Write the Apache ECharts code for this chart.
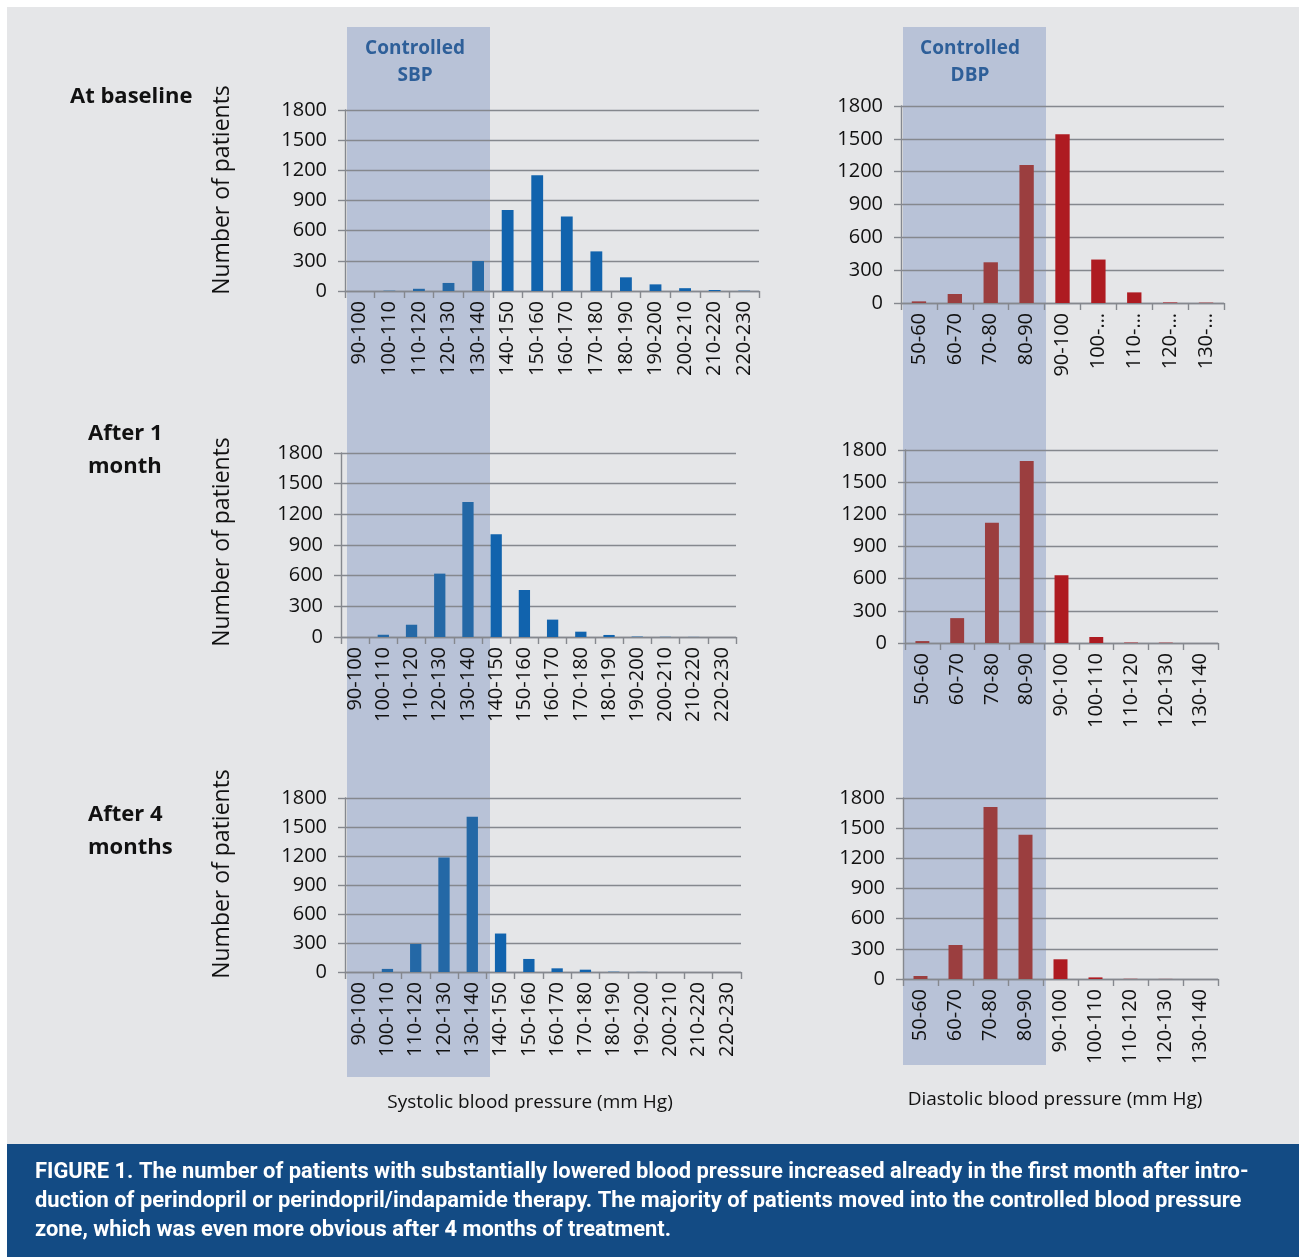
<!DOCTYPE html>
<html>
<head>
<meta charset="utf-8">
<script src="https://cdn.jsdelivr.net/npm/echarts@6/dist/echarts.min.js"></script>
<style>
html,body{margin:0;padding:0;background:#fff;}
#c{width:1300px;height:1257px;}
</style>
</head>
<body>
<div id="c"></div>
<script>
// ---------- DATA ----------
const sbpCategories = ['90-100','100-110','110-120','120-130','130-140','140-150','150-160','160-170','170-180','180-190','190-200','200-210','210-220','220-230'];
const dbpCategoriesBaseline = ['50-60','60-70','70-80','80-90','90-100','100-…','110-…','120-…','130-…'];
const dbpCategories = ['50-60','60-70','70-80','80-90','90-100','100-110','110-120','120-130','130-140'];

const sbpBaseline = [0, 3, 22, 80, 298, 806, 1152, 740, 394, 136, 66, 28, 10, 3];
const sbpMonth1   = [0, 22, 120, 620, 1320, 1005, 460, 170, 52, 20, 4, 2, 1, 0];
const sbpMonth4   = [0, 32, 290, 1185, 1605, 398, 135, 38, 24, 3, 1, 0, 0, 0];

const dbpBaseline = [15, 82, 372, 1262, 1543, 397, 97, 5, 3];
const dbpMonth1   = [18, 232, 1122, 1698, 633, 56, 4, 3, 0];
const dbpMonth4   = [30, 338, 1710, 1435, 196, 16, 2, 1, 0];

const rowTitles = [['At baseline'], ['After 1', 'month'], ['After 4', 'months']];
const yAxisName = 'Number of patients';
const sbpAxisTitle = 'Systolic blood pressure (mm Hg)';
const dbpAxisTitle = 'Diastolic blood pressure (mm Hg)';
const zoneLabelsSBP = ['Controlled', 'SBP'];
const zoneLabelsDBP = ['Controlled', 'DBP'];
const captionLines = [
  'FIGURE 1. The number of patients with substantially lowered blood pressure increased already in the first month after intro-',
  'duction of perindopril or perindopril/indapamide therapy. The majority of patients moved into the controlled blood pressure',
  'zone, which was even more obvious after 4 months of treatment.'
];
const yMin = 0, yMax = 1800, yStep = 300;

// ---------- STYLE / LAYOUT ----------
const FONT = '"Open Sans", "Noto Sans", sans-serif';
const GRID_COL = '#85888e';
const AXIS_COL = '#85888e';
const BLUE_OUT = '#1163ad', BLUE_IN = '#2468a6';
const RED_OUT = '#ae1b21', RED_IN = '#9b3e3f';

const panels = [
  {cats: sbpCategories, vals: sbpBaseline, nShade: 5, cin: BLUE_IN, cout: BLUE_OUT, grid: {left: 345, top: 110, width: 414, height: 181}},
  {cats: dbpCategoriesBaseline, vals: dbpBaseline, nShade: 4, cin: RED_IN, cout: RED_OUT, grid: {left: 901, top: 106, width: 323, height: 197}},
  {cats: sbpCategories, vals: sbpMonth1, nShade: 5, cin: BLUE_IN, cout: BLUE_OUT, grid: {left: 341, top: 453, width: 395, height: 184}},
  {cats: dbpCategories, vals: dbpMonth1, nShade: 4, cin: RED_IN, cout: RED_OUT, grid: {left: 905, top: 450, width: 313, height: 193}},
  {cats: sbpCategories, vals: sbpMonth4, nShade: 5, cin: BLUE_IN, cout: BLUE_OUT, grid: {left: 345, top: 798, width: 396, height: 174}},
  {cats: dbpCategories, vals: dbpMonth4, nShade: 4, cin: RED_IN, cout: RED_OUT, grid: {left: 903, top: 798, width: 315, height: 181}}
];

const grids = [], xAxes = [], yAxes = [], series = [];
panels.forEach((p, i) => {
  grids.push(Object.assign({containLabel: false}, p.grid));
  xAxes.push({
    type: 'category', gridIndex: i, data: p.cats,
    axisLine: {show: true, lineStyle: {color: AXIS_COL, width: 1.4}},
    axisTick: {show: true, interval: 0, length: 7, lineStyle: {color: AXIS_COL, width: 1.4}},
    axisLabel: {interval: 0, rotate: 90, fontSize: 20, color: '#111', fontFamily: FONT, margin: 10},
    splitLine: {show: false}
  });
  yAxes.push({
    type: 'value', gridIndex: i, min: yMin, max: yMax, interval: yStep,
    axisLine: {show: true, lineStyle: {color: AXIS_COL, width: 1.4}},
    axisTick: {show: true, length: 7, lineStyle: {color: AXIS_COL, width: 1.4}},
    axisLabel: {fontSize: 20, color: '#111', fontFamily: FONT, margin: 18, formatter: (v) => String(v)},
    splitLine: {show: true, lineStyle: {color: GRID_COL, width: 1.4}}
  });
  series.push({
    type: 'bar', xAxisIndex: i, yAxisIndex: i, data: p.vals, barWidth: '40%',
    itemStyle: {color: (params) => params.dataIndex < p.nShade ? p.cin : p.cout},
    silent: true
  });
});

const graphic = [];
// backgrounds
graphic.push({type: 'rect', z: -30, shape: {x: 7, y: 7, width: 1292, height: 1137}, style: {fill: '#e5e6e8'}});
graphic.push({type: 'rect', z: -20, shape: {x: 347, y: 27, width: 143, height: 1050}, style: {fill: '#b8c2d7'}});
graphic.push({type: 'rect', z: -20, shape: {x: 903, y: 27, width: 143, height: 1038}, style: {fill: '#b8c2d7'}});
graphic.push({type: 'rect', z: -10, shape: {x: 7, y: 1144, width: 1292, height: 113}, style: {fill: '#134b84'}});

// zone labels
[[zoneLabelsSBP, 415], [zoneLabelsDBP, 970]].forEach(([lines, cx]) => {
  lines.forEach((t, k) => {
    graphic.push({type: 'text', x: cx, y: 49 + k * 27, style: {text: t, fill: '#2e5f99', font: 'bold 19px ' + FONT, textAlign: 'center', textVerticalAlign: 'middle'}});
  });
});

// row titles
const titleX = [70, 88, 88], titleY = [97, 434, 815];
rowTitles.forEach((lines, r) => {
  lines.forEach((t, k) => {
    graphic.push({type: 'text', x: titleX[r], y: titleY[r] + k * 33, style: {text: t, fill: '#111', font: 'bold 22px ' + FONT, textAlign: 'left', textVerticalAlign: 'middle'}});
  });
});

// y axis names
[190, 542, 874].forEach(cy => {
  graphic.push({type: 'text', x: 222, y: cy, rotation: Math.PI / 2, style: {text: yAxisName, fill: '#111', font: '23px ' + FONT, textAlign: 'center', textVerticalAlign: 'middle'}});
});

// x axis titles
graphic.push({type: 'text', x: 530, y: 1103, style: {text: sbpAxisTitle, fill: '#111', font: '19px ' + FONT, textAlign: 'center', textVerticalAlign: 'middle'}});
graphic.push({type: 'text', x: 1055, y: 1100, style: {text: dbpAxisTitle, fill: '#111', font: '19px ' + FONT, textAlign: 'center', textVerticalAlign: 'middle'}});

// caption
captionLines.forEach((t, k) => {
  graphic.push({type: 'text', x: 35, y: 1173 + k * 29, style: {text: t, fill: '#fff', font: 'bold 21.9px Roboto, sans-serif', textAlign: 'left', textVerticalAlign: 'middle'}});
});

const chart = echarts.init(document.getElementById('c'), null, {renderer: 'canvas'});
chart.setOption({
  backgroundColor: '#ffffff',
  animation: false,
  grid: grids, xAxis: xAxes, yAxis: yAxes, series: series,
  graphic: graphic
});
</script>
</body>
</html>
